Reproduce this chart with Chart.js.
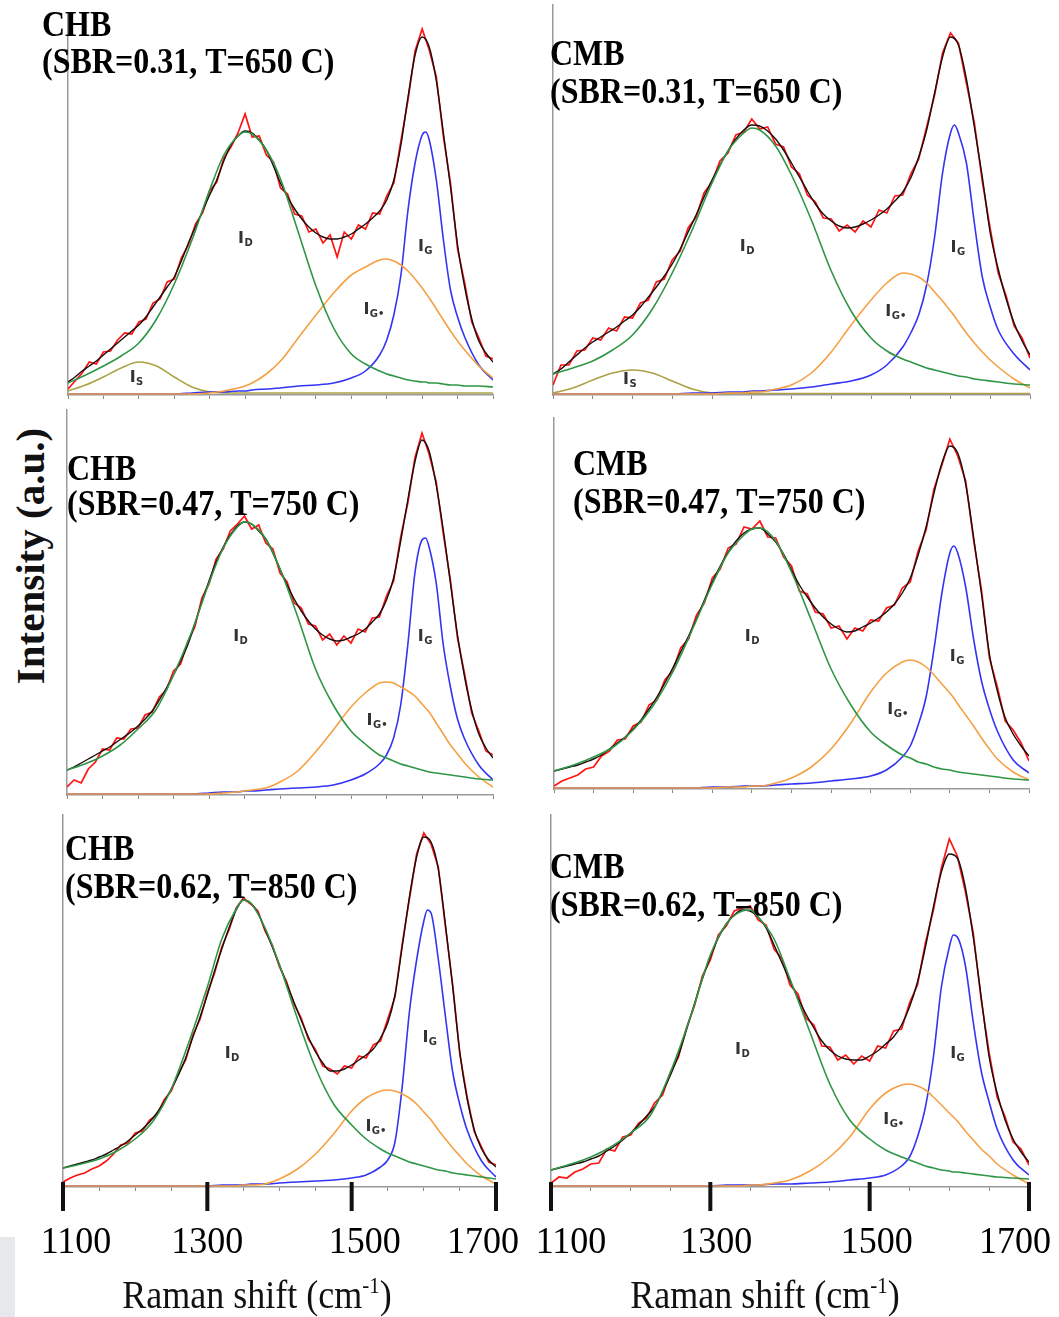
<!DOCTYPE html>
<html>
<head>
<meta charset="utf-8">
<script src="https://cdn.jsdelivr.net/npm/chart.js@4.4.1/dist/chart.umd.min.js"></script>
<style>
  body { margin: 0; background: #fff; width: 1059px; height: 1317px; overflow: hidden; position: relative; }
  canvas { position: absolute; }
  #ylab {
    position: absolute; left: 30px; top: 556px; white-space: nowrap;
    font: bold 41px 'Liberation Serif', serif; line-height: 1; color: #111;
    transform: translate(-50%, -50%) rotate(-90deg);
  }
  #corner { position: absolute; left: 0; top: 1237px; width: 15px; height: 80px; background: #e6e8eb; }
</style>
</head>
<body>
<div id="corner"></div>
<div id="ylab">Intensity (a.u.)</div>
<canvas id="c1"></canvas>
<canvas id="c2"></canvas>
<canvas id="c3"></canvas>
<canvas id="c4"></canvas>
<canvas id="c5"></canvas>
<canvas id="c6"></canvas>
<script>
// Raman shift grids (cm-1): measured spectrum / fit, and the fitted bands
const shift = [1100,1110,1120,1130,1140,1150,1160,1170,1180,1190,1200,1210,1220,1230,1240,1250,1260,1270,1280,1290,
  1300,1310,1320,1330,1340,1350,1360,1370,1380,1390,1400,1410,1420,1430,1440,1450,1460,1470,1480,1490,
  1500,1510,1520,1530,1540,1550,1560,1570,1580,1590,1600,1610,1620,1630,1640,1650,1660,1670,1680,1690,1700];
const bandShift = [1100,1125,1150,1175,1200,1225,1250,1275,1300,1320,1340,1350,1360,1380,1400,1425,1450,1475,1500,
  1520,1540,1550,1560,1570,1580,1590,1600,1605,1610,1620,1630,1640,1650,1660,1680,1700];
const majorTicks = [1100, 1300, 1500, 1700];

// CHB, SBR=0.31, T=650 C
const red1 = [6,14,22,33,31,43,44,55,62,61,73,76,92,96,113,116,137,150,171,182,204,213,237,248,262,281,258,259,240,233,
  207,201,181,179,163,166,152,160,138,163,156,170,166,182,181,199,212,254,295,344,366,345,318,258,212,146,112,73,57,39,36];
const fit1 = [13,18,24,29,34,40,46,52,58,64,70,78,88,98,108,118,134,152,168,184,200,215,234,250,259,264,262,255,245,229,
  212,198,186,176,168,162,158,156,156,158,161,166,171,177,184,195,215,250,298,340,358,348,314,262,208,150,108,76,54,42,33];
const d1 = [12,20,29,39,52,76,111,155,205,240,259,263,261,245,216,163,109,67,41,31,24,21,19,17,15,14,13,13,12,12,11,10,10,9,9,8];
const g1 = [1,1,1,1,1,1,1,2,3,3,4,4,5,6,7,9,10,12,17,24,40,55,80,120,185,232,260,263,255,215,155,105,78,58,30,15];
const gs1 = [1,1,1,1,1,1,1,1,2,4,7,9,12,21,34,57,80,102,120,128,135,136,134,130,124,116,107,102,97,86,75,64,54,45,29,17];
const s1 = [4,10,18,27,33,29,18,8,3,2,2,2,2,2,2,2,2,2,2,2,2,2,2,2,2,2,2,2,2,2,2,2,2,2,2,2];

// CMB, SBR=0.31, T=650 C
const red2 = [10,30,30,44,45,57,55,67,64,78,77,92,95,113,116,135,144,167,178,202,213,234,242,260,263,276,266,268,251,248,
  228,221,200,193,177,176,164,170,163,174,168,185,182,199,200,221,236,268,300,342,362,352,312,272,214,166,122,99,69,57,37];
const fit2 = [21,26,33,40,47,53,58,63,68,74,80,88,98,108,119,131,146,163,180,198,215,230,244,256,265,270,269,264,256,245,
  232,218,204,191,181,174,169,167,168,171,175,180,186,194,203,217,238,265,302,338,358,350,316,268,218,162,126,96,72,54,40];
const d2 = [21,27,34,45,60,86,122,165,212,244,262,267,265,249,220,175,124,84,57,44,36,33,30,27,25,23,21,20,19,18,16,15,14,13,11,10];
const g2 = [1,1,1,1,1,1,1,2,2,3,3,4,4,5,6,8,11,14,20,30,48,62,80,110,158,222,262,270,262,232,172,118,88,65,41,25];
const gs2 = [1,1,1,1,1,1,1,1,1,2,2,3,3,6,10,22,43,70,95,112,122,121,118,112,103,94,84,79,73,62,52,43,35,28,16,7];
const s2 = [2,7,15,22,25,22,14,6,2,1.5,1.5,1.5,1.5,1.5,1.5,1.5,1.5,1.5,1.5,1.5,1.5,1.5,1.5,1.5,1.5,1.5,1.5,1.5,1.5,1.5,1.5,1.5,1.5,1.5,1.5,1.5];

// CHB, SBR=0.47, T=750 C
const red3 = [8,15,12,26,33,46,45,57,56,66,67,80,83,98,105,124,131,153,168,197,211,236,246,264,271,279,266,270,252,246,
  222,213,192,187,171,169,155,161,150,159,152,166,163,177,178,199,214,258,292,337,362,341,313,261,215,157,121,82,64,44,40];
const fit3 = [25,28,32,36,40,44,48,53,58,63,69,76,84,95,107,120,134,150,171,193,214,233,248,260,269,273,271,264,256,242,
  226,210,196,184,174,166,160,156,154,155,158,161,166,173,181,195,217,254,295,333,355,344,310,265,212,160,118,85,61,47,37];
const d3 = [25,31,39,50,66,85,120,162,212,247,268,273,271,256,226,178,126,90,64,51,40,37,34,31,29,27,25,24,23,22,21,20,19,18,16,15];
const g3 = [1,1,1,1,1,1,1,1,2,3,3,4,4,5,6,7,8,10,15,21,31,40,57,90,150,222,255,257,248,212,150,108,76,56,30,15];
const gs3 = [1,1,1,1,1,1,1,1,1,2,3,4,5,7,13,24,43,65,88,102,112,113,112,108,104,99,91,87,83,72,61,50,41,32,18,8];

// CMB, SBR=0.47, T=750 C
const red4 = [3,8,11,14,20,22,33,38,49,50,63,67,84,89,109,118,141,150,174,186,211,220,241,245,262,260,268,252,251,232,
  223,198,195,177,175,161,163,150,161,158,169,168,181,184,201,207,238,259,300,324,350,333,308,249,199,131,102,68,59,46,28];
const fit4 = [18,20,22,24,27,30,34,40,46,52,60,69,80,92,106,121,137,153,170,189,207,223,237,248,256,260,261,255,247,235,
  219,204,192,181,172,165,160,157,158,162,166,171,177,185,196,211,234,262,296,326,343,336,305,252,195,135,98,71,55,43,33];
const d4 = [18,24,32,42,59,83,117,160,205,236,254,260,261,248,217,169,120,84,57,44,34,31,27,25,22,20,19,18,17,16,15,14,13,12,10,9];
const g4 = [1,1,1,1,1,1,1,1,2,2,3,3,3,4,5,6,8,10,13,19,32,43,64,92,140,196,236,243,236,202,150,108,80,58,29,16];
const gs4 = [1,1,1,1,1,1,1,1,1,2,2,3,3,6,11,22,40,66,97,116,127,129,127,122,114,105,96,91,85,74,63,51,40,30,17,9];

// CHB, SBR=0.62, T=850 C
const red5 = [5,9,12,14,18,21,26,33,42,44,54,56,67,72,87,96,114,127,152,168,194,214,240,257,279,289,283,276,256,242,
  220,205,183,169,148,137,121,118,113,121,119,131,129,142,146,168,190,243,288,333,354,343,320,260,202,132,90,55,40,25,22];
const fit5 = [19,21,23,25,27,30,33,37,41,46,52,58,65,74,85,98,112,129,150,170,192,216,238,259,277,287,284,274,258,240,
  222,203,185,167,150,135,124,116,116,118,122,127,132,138,149,164,192,240,290,330,350,345,318,262,200,134,88,57,38,27,20];
const d5 = [19,23,28,36,48,66,98,146,200,248,278,287,284,259,222,168,119,83,62,48,38,34,31,28,25,23,21,20,19,17,16,14,13,12,10,8];
const g5 = [1,1,1,1,1,1,1,1,1,2,2,2,3,3,4,5,6,7,9,12,20,27,45,100,175,227,266,277,274,228,170,115,82,57,26,10];
const gs5 = [1,1,1,1,1,1,1,1,1,1,1,2,2,3,8,18,33,53,76,89,96,97,96,93,89,83,75,71,67,57,48,39,31,23,11,3];

// CMB, SBR=0.62, T=850 C
const red6 = [4,10,9,15,18,23,24,38,36,50,52,64,69,84,92,115,130,159,181,211,227,252,261,276,279,281,267,262,238,228,
  202,193,169,162,141,140,127,132,123,131,126,141,139,156,158,184,202,244,277,319,348,331,296,254,187,134,90,70,45,38,22];
const fit6 = [17,19,21,23,25,28,31,36,41,47,54,62,71,80,95,112,132,157,183,208,230,249,263,272,277,276,270,259,242,224,
  206,189,173,159,146,137,131,128,127,127,131,136,143,150,162,180,205,240,280,315,333,329,300,250,190,130,94,67,48,35,25];
const d6 = [17,23,30,40,54,72,115,170,232,263,276,277,270,248,208,155,103,67,48,37,30,27,24,21,19,17,16,15,15,14,13,12,11,10,9,8];
const g6 = [1,1,1,1,1,1,1,1,1,2,2,2,2,3,3,4,5,7,9,12,21,30,50,80,130,200,240,252,250,222,165,116,85,58,27,12];
const gs6 = [1,1,1,1,1,1,1,1,1,1,1,2,2,4,7,16,30,50,78,94,102,103,101,97,90,82,74,70,66,56,47,38,31,23,12,3];

const colors = { red: '#ff1414', fit: '#1a0d0d', D: '#2f9646', G: '#3434f4', Gs: '#f5a043', S: '#aaa244' };

// panel placement (page px) and annotation spots (data coords)
const panels = [
  { canvas: 'c1', name: 'CHB', cond: '(SBR=0.31, T=650 C)', area: { l: 68, t: 15, r: 493, b: 395 },
    title: [42, 36, 73], red: red1, fit: fit1, D: d1, G: g1, Gs: gs1, S: s1,
    labels: [['D', 1340, 156], ['G', 1594, 148], ['G\u2022', 1517, 85], ['S', 1187, 17]] },
  { canvas: 'c2', name: 'CMB', cond: '(SBR=0.31, T=650 C)', area: { l: 553, t: 5, r: 1030, b: 395 },
    title: [550, 65, 103], red: red2, fit: fit2, D: d2, G: g2, Gs: gs2, S: s2,
    labels: [['D', 1335, 148], ['G', 1600, 147], ['G\u2022', 1518, 83], ['S', 1188, 15]] },
  { canvas: 'c3', name: 'CHB', cond: '(SBR=0.47, T=750 C)', area: { l: 67, t: 410, r: 493, b: 795 },
    title: [67, 480, 515], red: red3, fit: fit3, D: d3, G: g3, Gs: gs3,
    labels: [['D', 1334, 158], ['G', 1594, 158], ['G\u2022', 1522, 74]] },
  { canvas: 'c4', name: 'CMB', cond: '(SBR=0.47, T=750 C)', area: { l: 554, t: 418, r: 1029, b: 789 },
    title: [573, 475, 513], red: red4, fit: fit4, D: d4, G: g4, Gs: gs4,
    labels: [['D', 1341, 152], ['G', 1600, 132], ['G\u2022', 1521, 79]] },
  { canvas: 'c5', name: 'CHB', cond: '(SBR=0.62, T=850 C)', area: { l: 63, t: 815, r: 496, b: 1187 },
    title: [65, 860, 898], red: red5, fit: fit5, D: d5, G: g5, Gs: gs5, bottom: true, xTitle: 257,
    tickShift: [13, 0, 13, -13],
    labels: [['D', 1324, 133], ['G', 1598, 149], ['G\u2022', 1519, 60]] },
  { canvas: 'c6', name: 'CMB', cond: '(SBR=0.62, T=850 C)', area: { l: 551, t: 815, r: 1029, b: 1187 },
    title: [550, 878, 916], red: red6, fit: fit6, D: d6, G: g6, Gs: gs6, bottom: true, xTitle: 765,
    tickShift: [20, 6, 7, -14],
    labels: [['D', 1331, 137], ['G', 1601, 133], ['G\u2022', 1517, 67]] }
];

const padL = 60, padR = 40;

function pts(xs, ys) {
  return xs.map((x, i) => ({ x: x, y: ys[i] }));
}

// draws "I" with a subscript band name
function peakLabel(ctx, x, y, sub) {
  ctx.fillStyle = '#333';
  ctx.textBaseline = 'middle';
  ctx.textAlign = 'left';
  ctx.font = 'bold 16px "DejaVu Sans", sans-serif';
  ctx.fillText('I', x, y);
  const w = ctx.measureText('I').width;
  ctx.font = 'bold 10px "DejaVu Sans", sans-serif';
  ctx.fillText(sub, x + w + 0.5, y + 4);
}

function stretchedText(ctx, text, x, y, sy) {
  ctx.save();
  ctx.translate(x, y);
  ctx.scale(1, sy);
  ctx.fillText(text, 0, 0);
  ctx.restore();
}

function buildPanel(p) {
  const padT = Math.min(12, p.area.t);
  const bottomH = p.bottom ? 1317 - p.area.b : 12;
  const w = p.area.r - p.area.l + padL + padR;
  const h = p.area.b - p.area.t + padT + bottomH;
  const offX = p.area.l - padL, offY = p.area.t - padT;
  const cv = document.getElementById(p.canvas);
  cv.width = w; cv.height = h;
  cv.style.width = w + 'px'; cv.style.height = h + 'px';
  cv.style.left = offX + 'px'; cv.style.top = offY + 'px';

  const decor = {
    id: 'decor',
    afterDatasetsDraw(chart) {
      const ctx = chart.ctx;
      const xs = chart.scales.x, ys = chart.scales.y;
      ctx.save();
      // band labels
      p.labels.forEach(([sub, xv, yv]) => {
        peakLabel(ctx, xs.getPixelForValue(xv), ys.getPixelForValue(yv), sub);
      });
      // sample title
      ctx.fillStyle = '#000';
      ctx.textAlign = 'left';
      ctx.textBaseline = 'alphabetic';
      ctx.font = 'bold 32px "Liberation Serif", serif';
      stretchedText(ctx, p.name, p.title[0] - offX, p.title[1] - offY, 1.1);
      stretchedText(ctx, p.cond, p.title[0] - offX, p.title[2] - offY, 1.1);

      if (p.bottom) {
        // long major tick marks and their labels
        const base = chart.chartArea.bottom;
        ctx.strokeStyle = '#111';
        ctx.lineWidth = 4;
        ctx.font = '36px "Liberation Serif", serif';
        ctx.fillStyle = '#000';
        ctx.textAlign = 'center';
        majorTicks.forEach((v, i) => {
          const px = xs.getPixelForValue(v);
          ctx.beginPath();
          ctx.moveTo(px, base - 5);
          ctx.lineTo(px, base + 24);
          ctx.stroke();
          stretchedText(ctx, String(v), px + p.tickShift[i], 1253 - offY, 1.05);
        });
        ctx.textAlign = 'left';
        // axis title with superscript
        const main = 'Raman shift (cm', sup = '-1', close = ')';
        const bigF = '36px "Liberation Serif", serif', supF = '21px "Liberation Serif", serif';
        ctx.font = bigF;
        const wMain = ctx.measureText(main).width, wClose = ctx.measureText(close).width;
        ctx.font = supF;
        const wSup = ctx.measureText(sup).width;
        let x0 = p.xTitle - offX - (wMain + wSup + wClose) / 2;
        const yb = 1308 - offY;
        ctx.fillStyle = '#111';
        ctx.font = bigF;
        stretchedText(ctx, main, x0, yb, 1.1);
        ctx.font = supF;
        stretchedText(ctx, sup, x0 + wMain, yb - 15, 1.1);
        ctx.font = bigF;
        stretchedText(ctx, close, x0 + wMain + wSup, yb, 1.1);
      }
      ctx.restore();
    }
  };

  const datasets = [
    { data: pts(shift, p.fit), borderColor: colors.fit, borderWidth: 1.4, cubicInterpolationMode: 'monotone', order: 1 },
    { data: pts(shift, p.red), borderColor: colors.red, borderWidth: 1.7, tension: 0, order: 2 },
    { data: pts(bandShift, p.D), borderColor: colors.D, borderWidth: 1.6, cubicInterpolationMode: 'monotone', order: 0 },
    { data: pts(bandShift, p.Gs), borderColor: colors.Gs, borderWidth: 1.6, cubicInterpolationMode: 'monotone', order: 0 },
    { data: pts(bandShift, p.G), borderColor: colors.G, borderWidth: 1.6, cubicInterpolationMode: 'monotone', order: 0 }
  ];
  if (p.S) {
    datasets.push({ data: pts(bandShift, p.S), borderColor: colors.S, borderWidth: 1.6, cubicInterpolationMode: 'monotone', order: 0 });
  }

  new Chart(cv, {
    type: 'line',
    data: { datasets: datasets },
    options: {
      responsive: false,
      animation: false,
      events: [],
      layout: { padding: { left: padL, right: padR, top: padT, bottom: 0 } },
      plugins: { legend: { display: false }, tooltip: { enabled: false } },
      elements: { point: { radius: 0 }, line: { fill: false } },
      scales: {
        x: {
          type: 'linear', min: 1100, max: 1700, position: 'bottom',
          afterFit: s => { s.height = bottomH; s.paddingLeft = 0; s.paddingRight = 0; },
          grid: { display: true, drawOnChartArea: false, drawTicks: true, tickLength: 4, color: '#8a8a8a', lineWidth: 1 },
          border: { display: true, color: '#9a9a9a', width: 1.5 },
          ticks: { stepSize: 50, autoSkip: false, display: false }
        },
        y: {
          type: 'linear', min: 0, max: p.area.b - p.area.t,
          afterFit: s => { s.width = 0; },
          grid: { display: true, drawOnChartArea: false, drawTicks: false },
          border: { display: true, color: '#9a9a9a', width: 1.5 },
          ticks: { display: false }
        }
      }
    },
    plugins: [decor]
  });
}

panels.forEach(buildPanel);
</script>
</body>
</html>
